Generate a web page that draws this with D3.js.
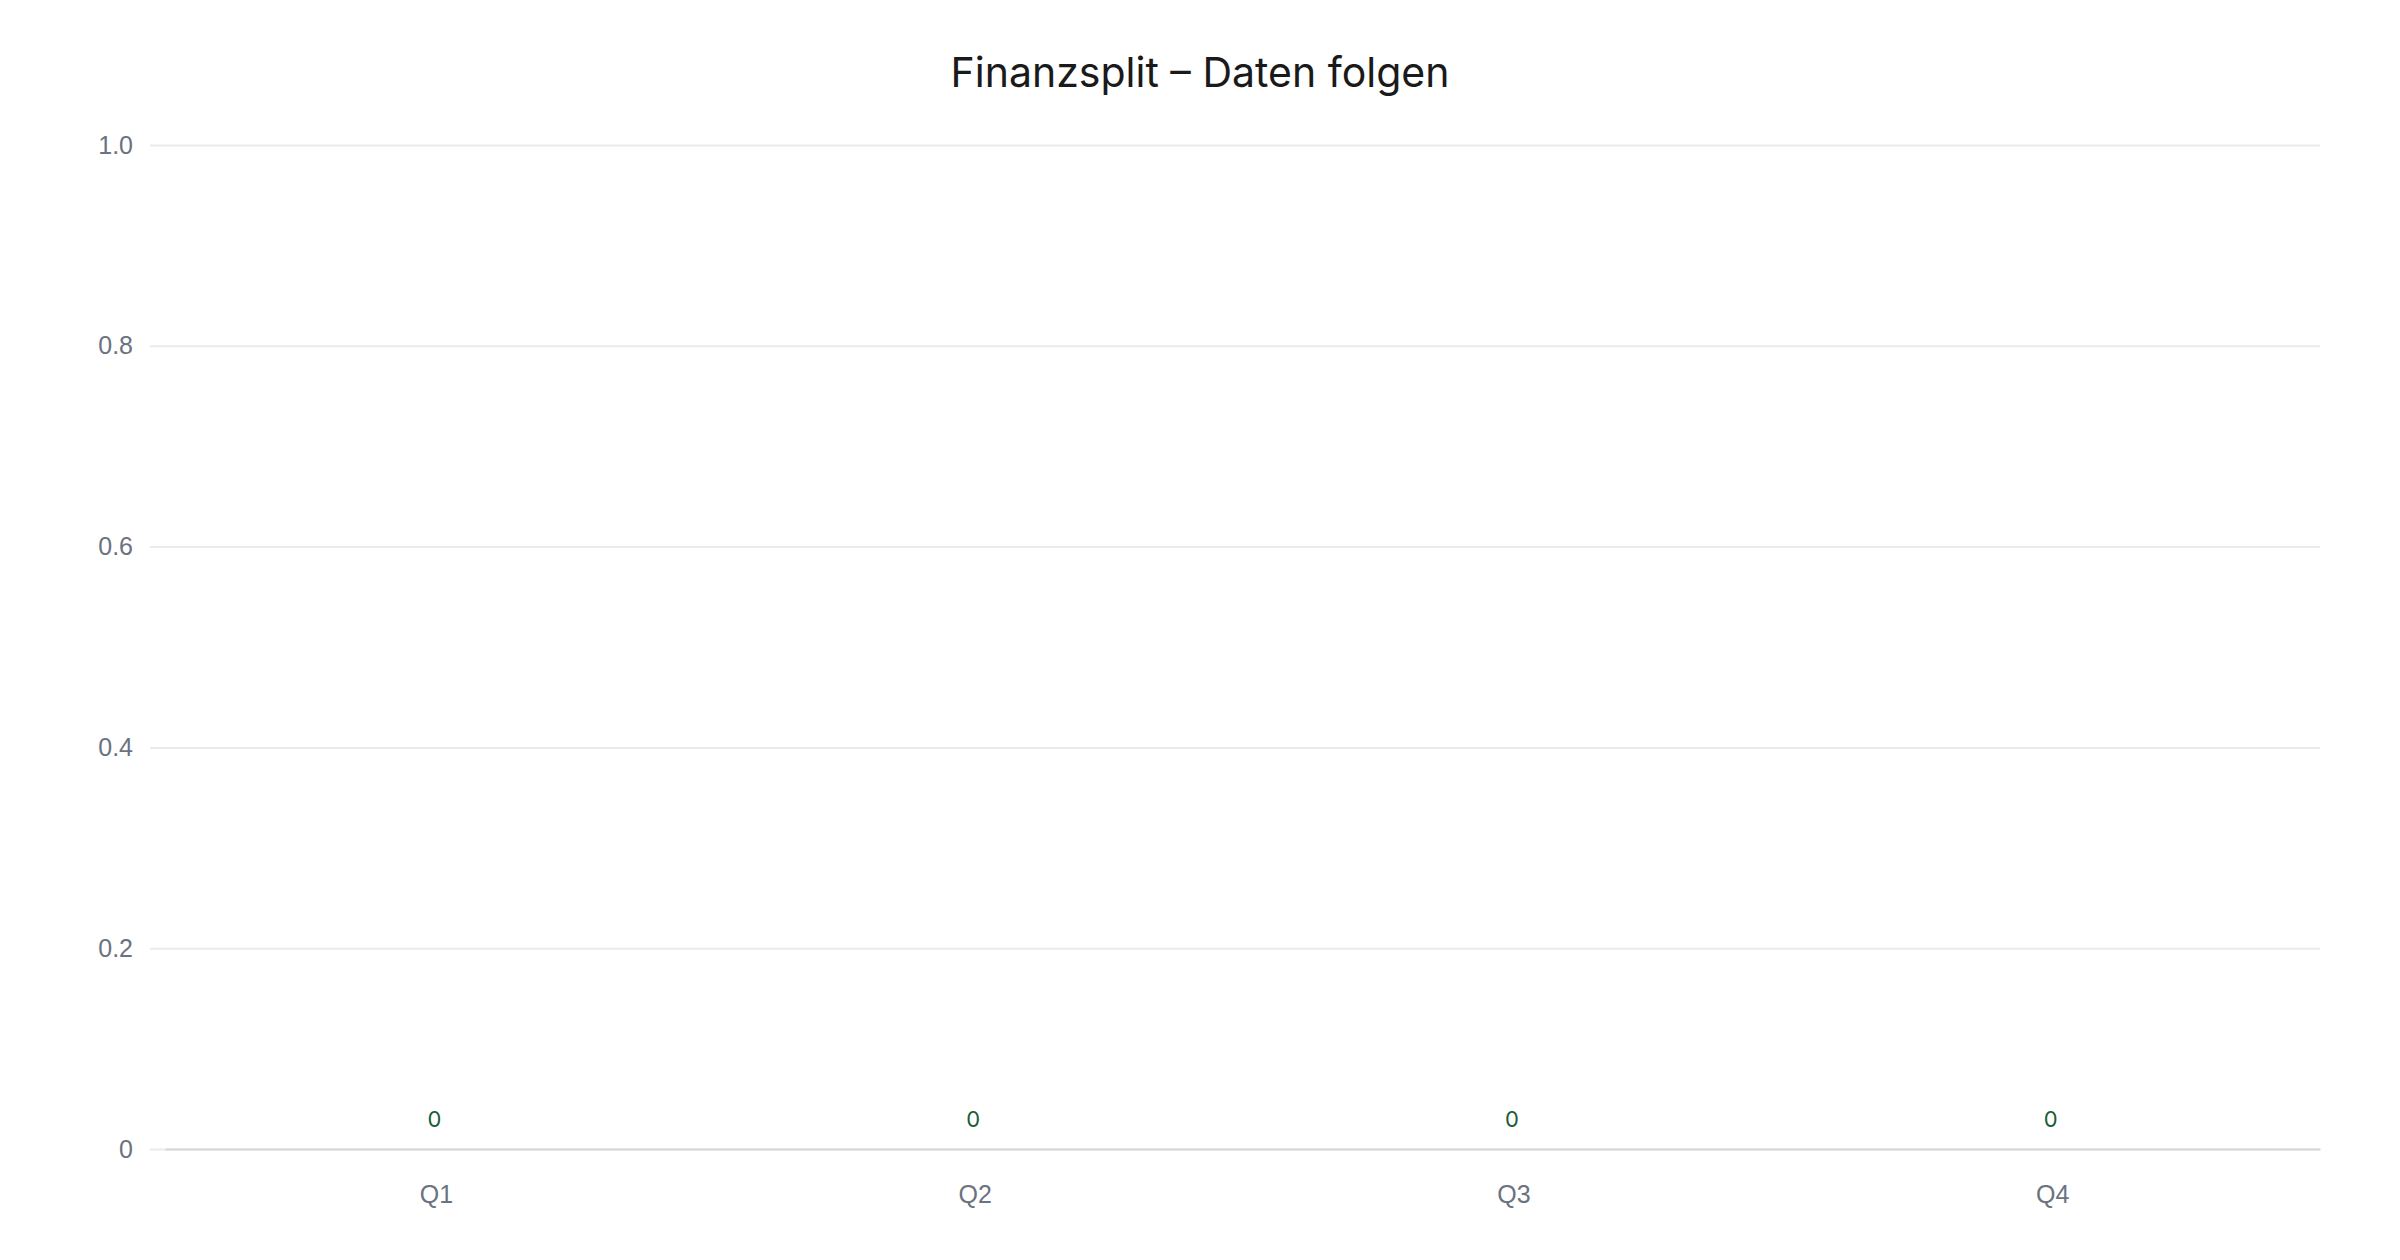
<!DOCTYPE html>
<html>
<head>
<meta charset="utf-8">
<script src="https://cdn.jsdelivr.net/npm/d3@7"></script>
<style>
  html, body { margin: 0; padding: 0; background: #ffffff; }
  svg { display: block; font-family: Inter, "Noto Sans", sans-serif; }
</style>
</head>
<body>
<svg id="chart" width="2400" height="1260"></svg>
<script>
const title = "Finanzsplit – Daten folgen";
const categories = ["Q1", "Q2", "Q3", "Q4"];
const values = [0, 0, 0, 0];
const yTicks = [0, 0.2, 0.4, 0.6, 0.8, 1.0];

const W = 2400, H = 1260;
const margin = { top: 145, right: 80, bottom: 111, left: 165 };
const svg = d3.select("#chart");

const x = d3.scaleBand().domain(categories).range([margin.left, W - margin.right]).padding(0);
const y = d3.scaleLinear().domain([0, 1]).range([H - margin.bottom, margin.top]);

svg.append("text")
  .attr("x", W / 2).attr("y", 72)
  .attr("text-anchor", "middle").attr("dominant-baseline", "central")
  .attr("font-size", 41).attr("fill", "#1a1a1a")
  .text(title);

// grid + y labels
const yAxis = d3.axisLeft(y).tickValues(yTicks)
  .tickFormat(d => d === 0 ? "0" : d3.format(".1f")(d))
  .tickSize(-(W - margin.right - 150)).tickPadding(17);
const gy = svg.append("g").attr("transform", `translate(150,0)`).call(yAxis);
gy.select(".domain").remove();
gy.selectAll(".tick line").attr("stroke", "#ebebeb").attr("stroke-width", 2);
gy.selectAll(".tick text").attr("fill", "#6b7280").attr("font-size", 25);

// x axis
const xAxis = d3.axisBottom(x).tickSize(0).tickPadding(36);
const gx = svg.append("g").attr("transform", `translate(0,${y(0)})`).call(xAxis);
gx.select(".domain").attr("stroke", "#d6d6d6").attr("stroke-width", 2);
gx.selectAll(".tick text").attr("fill", "#6b7280").attr("font-size", 25).attr("dx", 2);

// bars (zero height)
svg.append("g").selectAll("rect").data(values).join("rect")
  .attr("x", (d, i) => x(categories[i]) + x.bandwidth() * 0.2)
  .attr("width", x.bandwidth() * 0.6)
  .attr("y", d => y(d))
  .attr("height", d => y(0) - y(d))
  .attr("fill", "#1a5c35");

// value labels
svg.append("g").selectAll("text").data(values).join("text")
  .attr("x", (d, i) => x(categories[i]) + x.bandwidth() / 2)
  .attr("y", d => y(d) - 30)
  .attr("text-anchor", "middle").attr("dominant-baseline", "central")
  .attr("font-size", 22).attr("fill", "#1a5c35")
  .text(d => d3.format(",")(d));
</script>
</body>
</html>
